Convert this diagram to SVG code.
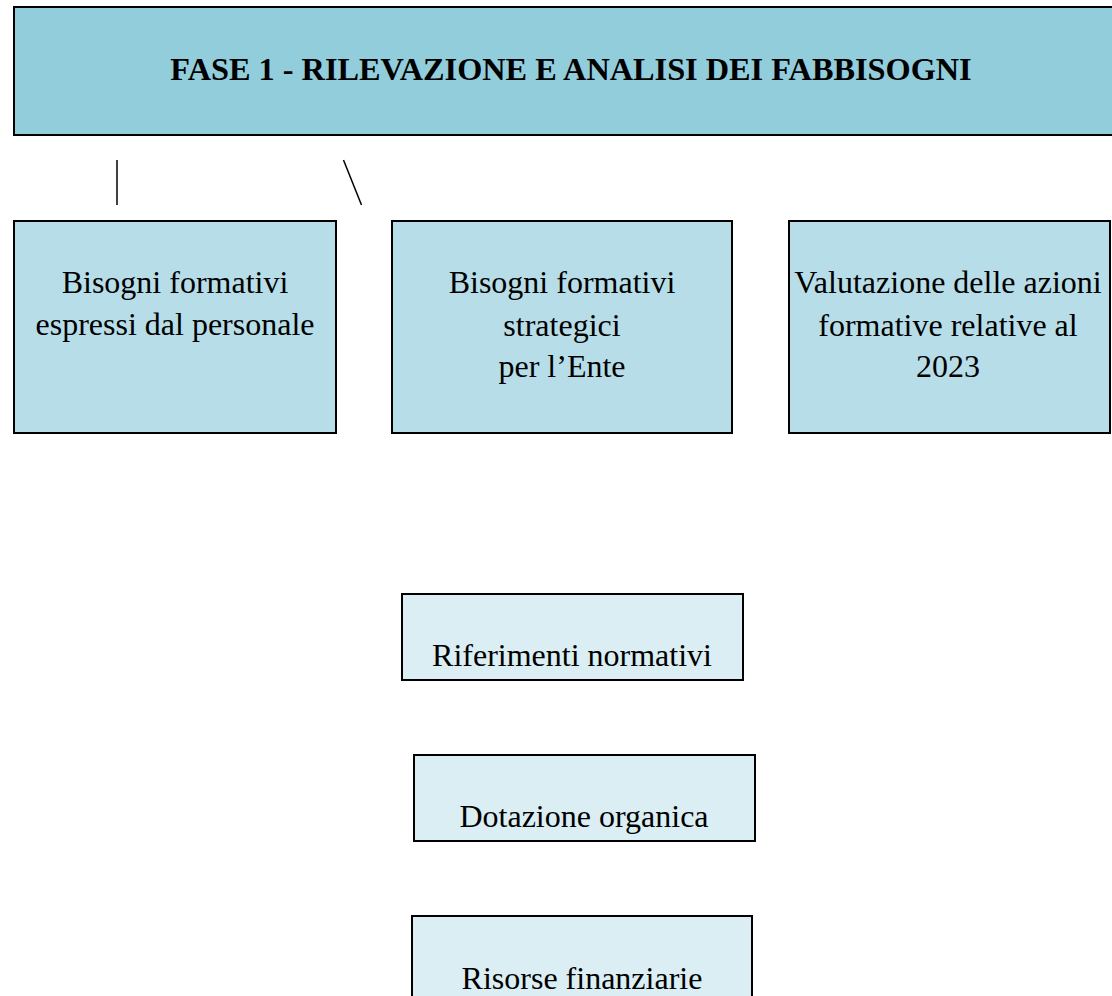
<svg xmlns="http://www.w3.org/2000/svg" width="1112" height="996" viewBox="0 0 1112 996">
<style>
.box{stroke:#000;stroke-width:2}
.top{fill:#92CDDC}
.mid{fill:#B7DEE8}
.low{fill:#DAEEF3}
.t{font-family:"Liberation Serif","Times New Roman",serif;font-size:32px;fill:#000;text-anchor:middle}
.b{font-weight:bold;font-size:32.3px}
.ln{stroke:#000;stroke-width:1.5;fill:none}
</style>
<rect width="1112" height="996" fill="#fff"/>
<g id="fase1">
<rect class="box top" x="14" y="7" width="1110" height="128"/>
<text class="t b" x="571" y="80">FASE 1 - RILEVAZIONE E ANALISI DEI FABBISOGNI</text>
</g>
<g id="connectors">
<line class="ln" x1="117" y1="160" x2="117" y2="205"/>
<line class="ln" x1="343.5" y1="160" x2="361.5" y2="205"/>
</g>
<g id="bisogni-personale">
<rect class="box mid" x="14" y="221" width="322" height="212"/>
<text class="t" x="175" y="293">Bisogni formativi</text>
<text class="t" x="175" y="335">espressi dal personale</text>
</g>
<g id="bisogni-strategici">
<rect class="box mid" x="392" y="221" width="340" height="212"/>
<text class="t" x="562" y="293">Bisogni formativi</text>
<text class="t" x="562" y="336">strategici</text>
<text class="t" x="562" y="377">per l’Ente</text>
</g>
<g id="valutazione">
<rect class="box mid" x="789" y="221" width="321" height="212"/>
<text class="t" x="948" y="293">Valutazione delle azioni</text>
<text class="t" x="948" y="336">formative relative al</text>
<text class="t" x="948" y="377">2023</text>
</g>
<g id="riferimenti">
<rect class="box low" x="402" y="594" width="341" height="86"/>
<text class="t" x="572" y="666">Riferimenti normativi</text>
</g>
<g id="dotazione">
<rect class="box low" x="414" y="755" width="341" height="86"/>
<text class="t" x="584" y="827">Dotazione organica</text>
</g>
<g id="risorse">
<rect class="box low" x="412" y="916" width="340" height="100"/>
<text class="t" x="582" y="989">Risorse finanziarie</text>
</g>
</svg>
